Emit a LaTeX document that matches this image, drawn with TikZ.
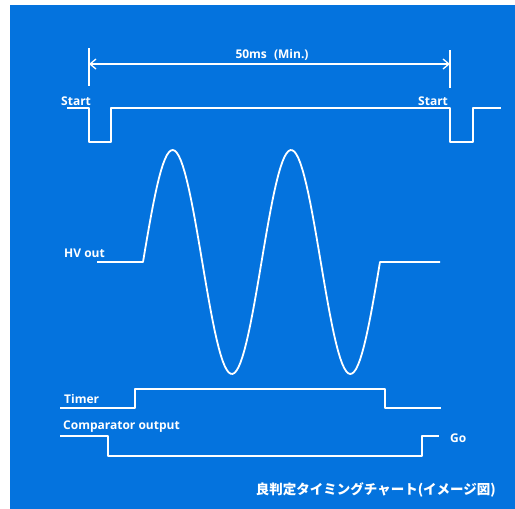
\documentclass[tikz,border=0pt]{standalone}
\usepackage{fontspec}
\setmainfont{Open Sans}
\newfontfamily\jpfont{Noto Sans CJK JP}
\usetikzlibrary{arrows.meta}
\definecolor{chartblue}{RGB}{4,115,222}
\tikzset{
  sig/.style={white, line width=1.8pt, line join=round},
  lbl/.style={white, font=\bfseries\fontsize{12}{14}\selectfont, inner sep=0pt},
}
\begin{document}
\begin{tikzpicture}[x=1pt, y=-1pt]
        \useasboundingbox (0,0) rectangle (515,509);
        \fill[chartblue] (10,5) rectangle (515,509);

        % 50ms dimension
        \coordinate (m1) at (89,64);
        \coordinate (m2) at (450,64);
        \draw[sig] (89,48) -- (89,86);
        \draw[sig] (450,50) -- (450,88);
        \draw[sig, line width=1.3pt, {Straight Barb[length=6pt,width=10pt]}-{Straight Barb[length=6pt,width=10pt]}] (m1) -- (m2);
        \node[lbl] (dim) at (272,55) {50ms\hspace{4pt} (Min.)};

        % Start
        \draw[sig] (67,108) -- (89,108) -- (89,142) -- (111,142) -- (111,108)
                   -- (450,108) -- (450,142) -- (473,142) -- (473,108) -- (501,108);
        \foreach \x/\n in {61/start1, 418/start2} {
            \node[lbl, anchor=west] (\n) at (\x,101) {Start};
        }

        % HV out
        \node[lbl, anchor=west] (hv) at (64,253) {HV out};
        \draw[sig] (97,262) -- (143,262)
            -- plot[domain=0:237, samples=120] ({143+\x},{262-112*sin(\x/118.5*360)})
            -- (440,262);

        % Timer
        \node[lbl, anchor=west] (timer) at (64,399) {Timer};
        \draw[sig] (60,408) -- (135,408) -- (135,389) -- (385,389) -- (385,408) -- (441,408);

        % Comparator output
        \node[lbl, anchor=west] (comp) at (63,427) {Comparator output};
        \draw[sig] (60,436) -- (108,436) -- (108,456) -- (422,456) -- (422,436) -- (439,436);
        \node[lbl, anchor=west] (go) at (450,438) {Go};

        \node[lbl, anchor=east, font=\jpfont\bfseries\fontsize{13.5}{15}\selectfont] (cap) at (496,490) {良判定タイミングチャート(イメージ図)};
    \end{tikzpicture}
\end{document}
